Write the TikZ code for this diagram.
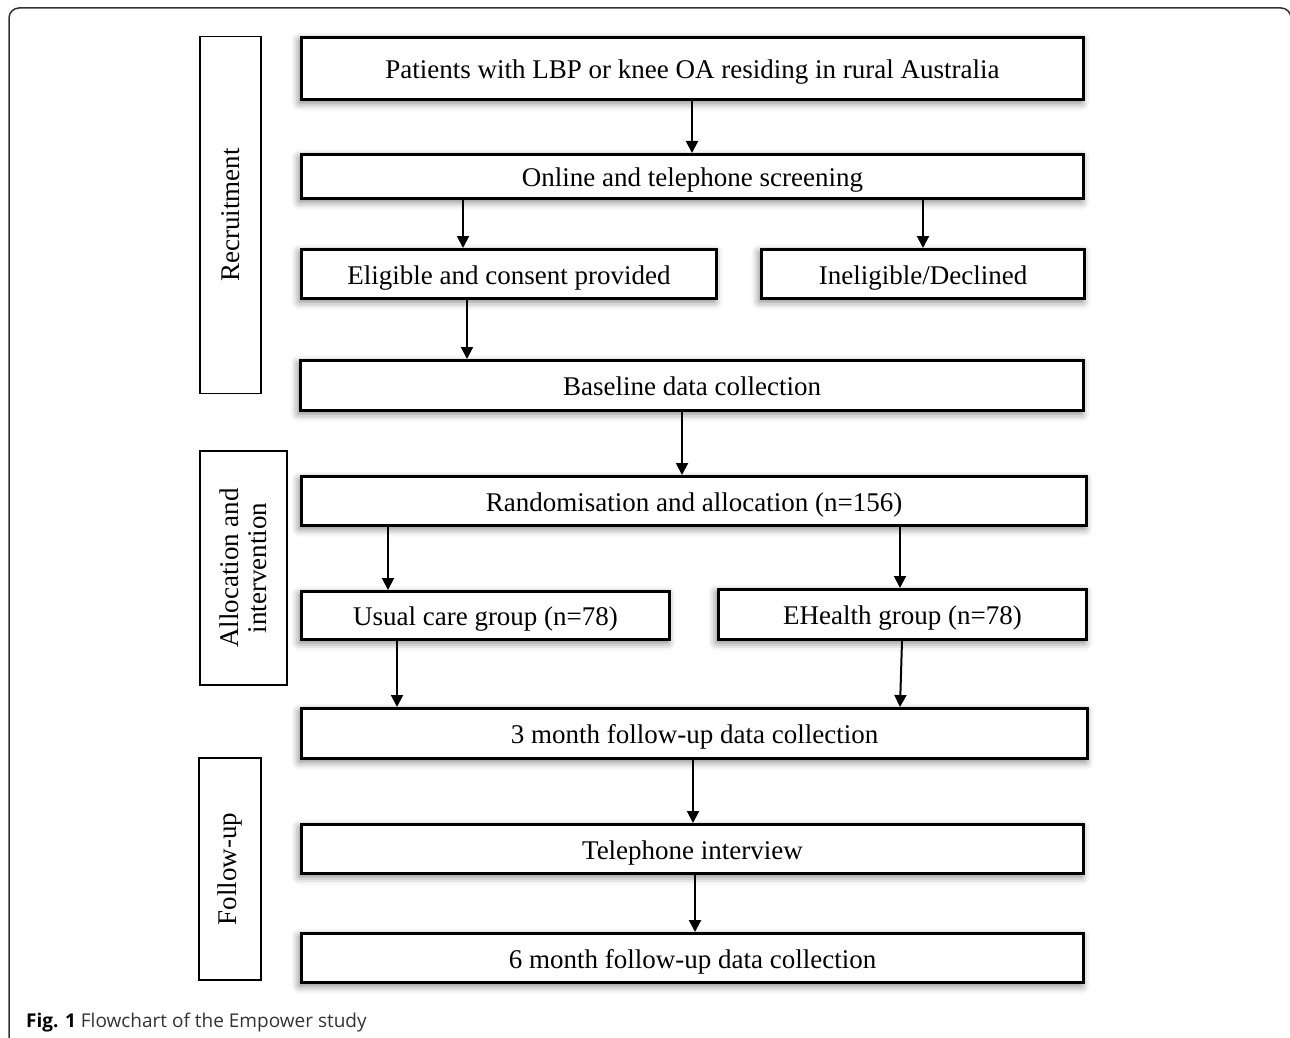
\documentclass[tikz,border=0pt]{standalone}
\usepackage{fontspec}
\setmainfont{Liberation Serif}
\newfontfamily\capfont{Open Sans}
\usetikzlibrary{arrows.meta,shadows.blur}
\begin{document}
\begin{tikzpicture}[x=1pt,y=-1pt,
  box/.style={draw, line width=3pt, fill=white, inner sep=0pt,
    text height=20pt, text depth=0pt,
    font=\fontsize{27}{32}\selectfont,
    blur shadow={shadow xshift=-2pt, shadow yshift=-3pt, shadow blur radius=8pt, shadow opacity=55}},
  side/.style={draw, line width=1.4pt, fill=white, rotate=90, inner sep=0pt, align=center,
    font=\fontsize{27}{28}\selectfont},
  arr/.style={-{Triangle[length=12pt,width=12pt]}, line width=2pt}]
\useasboundingbox (0,0) rectangle (1290,1038);
% outer frame
\draw[line width=1.5pt, black!80, rounded corners=10pt] (9,8) rectangle (1291,1047);

% side boxes
\node[side, minimum width=357pt, minimum height=61pt] (rec) at (230.5,215) {Recruitment};
\node[side, minimum width=234pt, minimum height=87pt] (alloc) at (243.5,568) {Allocation and\\intervention};
\node[side, minimum width=222pt, minimum height=62pt] (fol) at (230,869) {Follow-up};

% main boxes
\node[box, minimum width=782pt, minimum height=62pt] (p)  at (692.5,68.5) {Patients with LBP or knee OA residing in rural Australia};
\node[box, minimum width=782pt, minimum height=44pt] (s)  at (692.5,176.5) {Online and telephone screening};
\node[box, minimum width=415pt, minimum height=49pt] (e)  at (509,274) {Eligible and consent provided};
\node[box, minimum width=323pt, minimum height=49pt] (i)  at (923,274) {Ineligible/Declined};
\node[box, minimum width=783pt, minimum height=50pt] (b)  at (692,385.5) {Baseline data collection};
\node[box, minimum width=785pt, minimum height=49pt] (r)  at (694,501) {Randomisation and allocation (n=156)};
\node[box, minimum width=368pt, minimum height=48pt] (u)  at (485.5,615.5) {Usual care group (n=78)};
\node[box, minimum width=368pt, minimum height=50pt] (eh) at (902.5,614.5) {EHealth group (n=78)};
\node[box, minimum width=786pt, minimum height=50pt] (f3) at (694.5,733.5) {3 month follow-up data collection};
\node[box, minimum width=782pt, minimum height=49pt] (t)  at (692.5,849) {Telephone interview};
\node[box, minimum width=782pt, minimum height=49pt] (f6) at (692.5,958) {6 month follow-up data collection};

% x positions of connectors
\coordinate (xa) at (692,0);
\coordinate (xb) at (463,0);
\coordinate (xc) at (923,0);
\coordinate (xd) at (467,0);
\coordinate (xe) at (682,0);
\coordinate (xf) at (388,0);
\coordinate (xg) at (900,0);
\coordinate (xh) at (397,0);
\coordinate (xi) at (902,0);
\coordinate (xj) at (693,0);
\coordinate (xk) at (695,0);

\draw[arr] (p.south -| xa) -- (s.north -| xa);
\draw[arr] (s.south -| xb) -- (e.north -| xb);
\draw[arr] (s.south -| xc) -- (i.north -| xc);
\draw[arr] (e.south -| xd) -- (b.north -| xd);
\draw[arr] (b.south -| xe) -- (r.north -| xe);
\draw[arr] (r.south -| xf) -- (u.north -| xf);
\draw[arr] (r.south -| xg) -- (eh.north -| xg);
\draw[arr] (u.south -| xh) -- (f3.north -| xh);
\draw[arr] (eh.south -| xi) -- (f3.north -| xg);
\draw[arr] (f3.south -| xj) -- (t.north -| xj);
\draw[arr] (t.south -| xk) -- (f6.north -| xk);

% caption
\node[anchor=base west, inner sep=0pt, font=\capfont\fontsize{19}{21}\selectfont, text=black!80] (cap) at (26,1027)
  {\textbf{\color{black}Fig. 1} Flowchart of the Empower study};
\end{tikzpicture}
\end{document}
